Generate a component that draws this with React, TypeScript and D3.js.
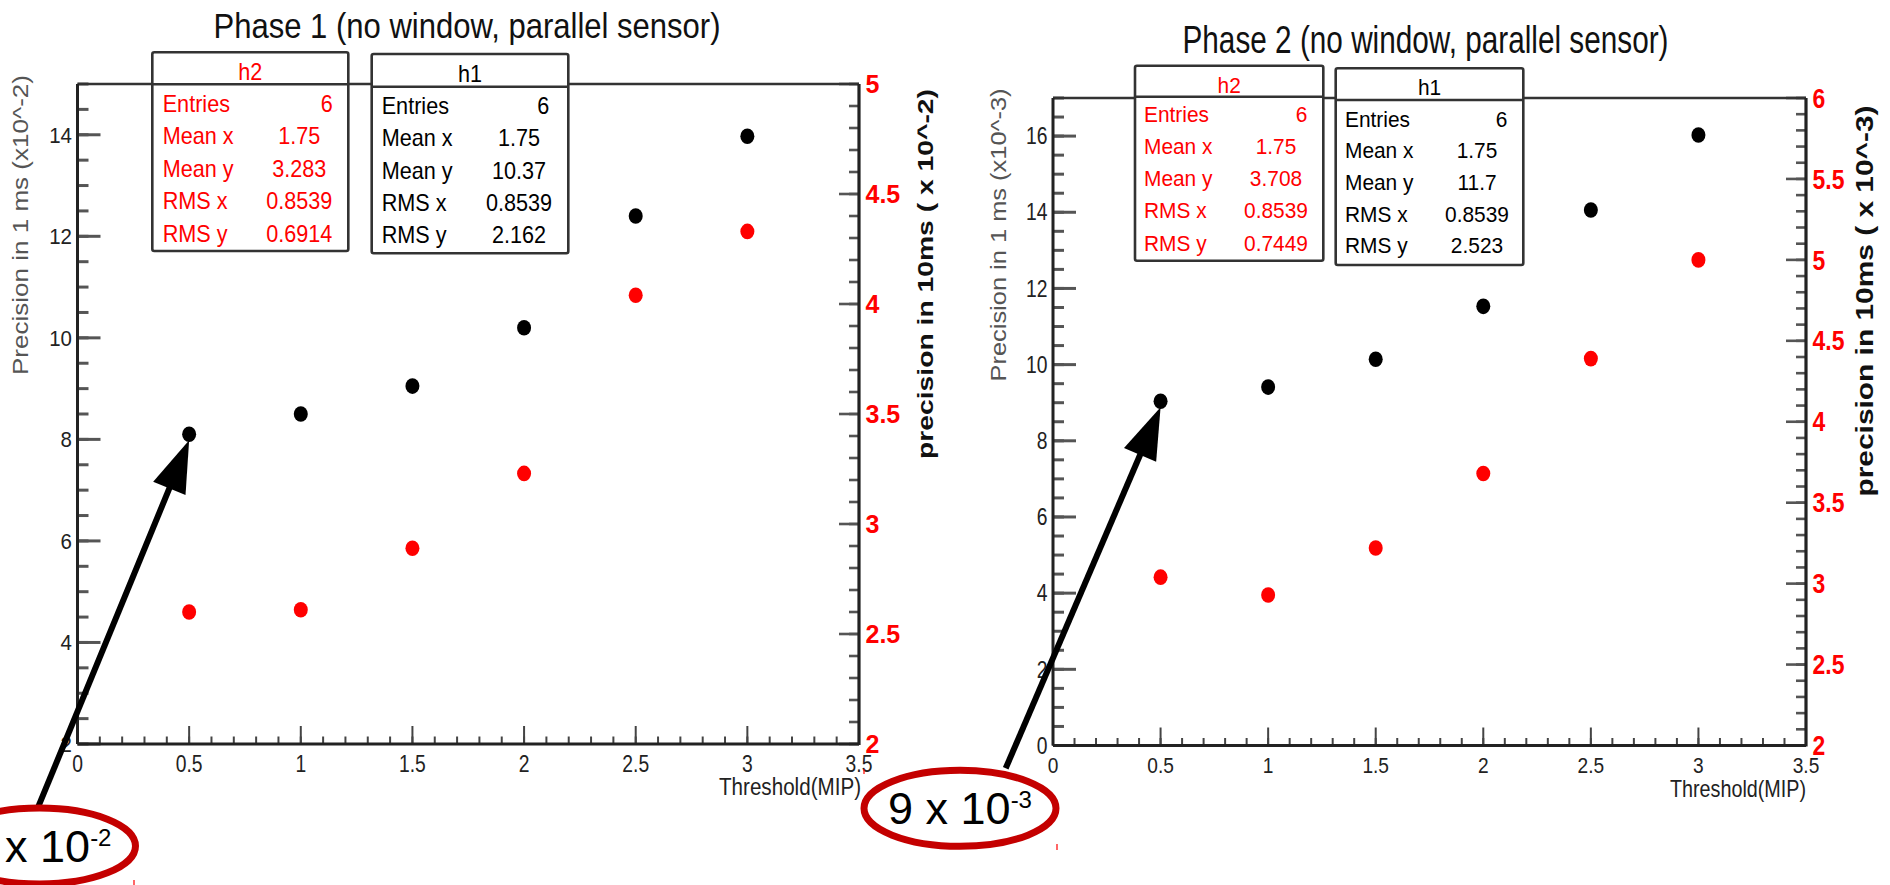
import React from 'react';
import * as d3 from 'd3';

// ---- data -------------------------------------------------------------
const thresholdMip = [0.5, 1, 1.5, 2, 2.5, 3];
const phase1Prec1ms = [8.1, 8.5, 9.05, 10.2, 12.4, 13.97];
const phase1Prec10ms = [2.6, 2.61, 2.89, 3.23, 4.04, 4.33];
const phase2Prec1ms = [9.04, 9.41, 10.14, 11.53, 14.06, 16.03];
const phase2Prec10ms = [3.04, 2.93, 3.22, 3.68, 4.39, 5.0];

const xTickValues = [0, 0.5, 1, 1.5, 2, 2.5, 3, 3.5];
const xTickLabels = ['0', '0.5', '1', '1.5', '2', '2.5', '3', '3.5'];
const phase1LeftTicks = [2, 4, 6, 8, 10, 12, 14];
const phase1RightTicks = [2, 2.5, 3, 3.5, 4, 4.5, 5];
const phase2LeftTicks = [0, 2, 4, 6, 8, 10, 12, 14, 16];
const phase2RightTicks = [2, 2.5, 3, 3.5, 4, 4.5, 5, 5.5, 6];

const statNames = ['Entries', 'Mean x', 'Mean y', 'RMS x', 'RMS y'];
const phase1H2Stats = ['6', '1.75', '3.283', '0.8539', '0.6914'];
const phase1H1Stats = ['6', '1.75', '10.37', '0.8539', '2.162'];
const phase2H2Stats = ['6', '1.75', '3.708', '0.8539', '0.7449'];
const phase2H1Stats = ['6', '1.75', '11.7', '0.8539', '2.523'];

const calloutMantissa = ['8', '9'];
const calloutExponent = ['-2', '-3'];

// ---- layout -----------------------------------------------------------
const FONT = "'Liberation Sans', Arial, Helvetica, sans-serif";
const RED = '#ff0000';
const DARK_RED = '#c40000';

const panels = [
  {
    title: 'Phase 1 (no window, parallel sensor)',
    titleX: 467, titleY: 38.3, titleSize: 35, titleLen: 507,
    frame: { left: 77.5, right: 859, top: 84, bottom: 744 },
    leftDomain: [2, 15], rightDomain: [2, 5],
    leftTicks: phase1LeftTicks, rightTicks: phase1RightTicks,
    black: phase1Prec1ms, red: phase1Prec10ms,
    leftLabel: { size: 22, sx: 0.93 },
    xLabel: { size: 23, sx: 0.84, dy: 27.7 },
    rightLabel: { size: 25, sx: 1 },
    leftTitle: 'Precision in 1 ms (x10^-2)', leftTitleX: 27.5, leftTitleY: 225, leftTitleLen: 300, leftTitleSize: 21.5,
    rightTitle: 'precision in 10ms ( x 10^-2)', rightTitleX: 933, rightTitleY: 274, rightTitleLen: 370, rightTitleSize: 22,
    xTitleX: 861, xTitleY: 795, xTitleSize: 23, xTitleLen: 142,
    boxes: [
      { name: 'h2', color: RED, values: phase1H2Stats, x: 152.3, y: 52.3, w: 196, h: 198.7, headerY: 84.3, headerBase: 80,
        rowStart: 111.7, rowStep: 32.5, labelDx: 10.4, valueCx: 147, entriesDx: 15.6, size: 23, sx: 0.94 },
      { name: 'h1', color: '#000', values: phase1H1Stats, x: 371.7, y: 54, w: 196.6, h: 199.3, headerY: 86.7, headerBase: 81.7,
        rowStart: 114, rowStep: 32.3, labelDx: 10, valueCx: 147.3, entriesDx: 19, size: 23, sx: 0.94 },
    ],
    callout: { cx: 39.5, cy: 846, rx: 96, ry: 38, base: 861.7, start: [38.3, 806.7] },
    marks: [[134, 880, 134, 885], [864, 769, 864, 774]],
  },
  {
    title: 'Phase 2 (no window, parallel sensor)',
    titleX: 1425.5, titleY: 53.3, titleSize: 38, titleLen: 486,
    frame: { left: 1053, right: 1806, top: 98, bottom: 745.5 },
    leftDomain: [0, 17], rightDomain: [2, 6],
    leftTicks: phase2LeftTicks, rightTicks: phase2RightTicks,
    black: phase2Prec1ms, red: phase2Prec10ms,
    leftLabel: { size: 23, sx: 0.84 },
    xLabel: { size: 22.5, sx: 0.85, dy: 27.8 },
    rightLabel: { size: 27, sx: 0.85 },
    leftTitle: 'Precision in 1 ms (x10^-3)', leftTitleX: 1006, leftTitleY: 235, leftTitleLen: 293, leftTitleSize: 21.5,
    rightTitle: 'precision in 10ms ( x 10^-3)', rightTitleX: 1873, rightTitleY: 301, rightTitleLen: 391, rightTitleSize: 23,
    xTitleX: 1806, xTitleY: 797, xTitleSize: 24, xTitleLen: 136,
    boxes: [
      { name: 'h2', color: RED, values: phase2H2Stats, x: 1135, y: 65.7, w: 188.3, h: 195, headerY: 96.7, headerBase: 93.3,
        rowStart: 121.7, rowStep: 32.25, labelDx: 9, valueCx: 141, entriesDx: 16, size: 22, sx: 0.95 },
      { name: 'h1', color: '#000', values: phase2H1Stats, x: 1335.7, y: 68.3, w: 187.6, h: 196.7, headerY: 100, headerBase: 95,
        rowStart: 126.7, rowStep: 31.65, labelDx: 9.3, valueCx: 141.3, entriesDx: 16, size: 22, sx: 0.95 },
    ],
    callout: { cx: 960, cy: 808.3, rx: 96, ry: 38, base: 824, start: [1005.7, 768.3] },
    marks: [[1057, 844, 1057, 850]],
  },
];

// Text drawn with an optional horizontal squeeze around its anchor point.
function SText({ x, y, sx = 1, anchor = 'start', size, fill = '#000', weight = 'normal', children }: any) {
  return (
    <text
      transform={`translate(${x},${y}) scale(${sx},1)`}
      textAnchor={anchor}
      fontSize={size}
      fontWeight={weight}
      fill={fill}
      fontFamily={FONT}
    >
      {children}
    </text>
  );
}

function StatBox({ b }: any) {
  const rows = statNames.map((n, i) => {
    const y = b.rowStart + i * b.rowStep;
    const isEntries = i === 0;
    return (
      <g key={n}>
        <SText x={b.x + b.labelDx} y={y} size={b.size} sx={b.sx} fill={b.color}>{n}</SText>
        <SText
          x={isEntries ? b.x + b.w - b.entriesDx : b.x + b.valueCx}
          y={y}
          size={b.size}
          sx={b.sx}
          anchor={isEntries ? 'end' : 'middle'}
          fill={b.color}
        >
          {b.values[i]}
        </SText>
      </g>
    );
  });
  return (
    <g>
      <rect x={b.x} y={b.y} width={b.w} height={b.h} rx={2} fill="#fff" stroke="#333" strokeWidth={2.6} />
      <line x1={b.x} x2={b.x + b.w} y1={b.headerY} y2={b.headerY} stroke="#333" strokeWidth={2.6} />
      <SText x={b.x + b.w / 2} y={b.headerBase} size={b.size} sx={b.sx} anchor="middle" fill={b.color}>{b.name}</SText>
      {rows}
    </g>
  );
}

function Arrow({ from, to }: any) {
  const [x0, y0] = from;
  const [x1, y1] = to;
  const len = Math.hypot(x1 - x0, y1 - y0);
  const ux = (x1 - x0) / len;
  const uy = (y1 - y0) / len;
  const headLen = 52;
  const halfW = 17.5;
  const bx = x1 - ux * headLen;
  const by = y1 - uy * headLen;
  const px = -uy;
  const py = ux;
  const head = `M${x1},${y1}L${bx + px * halfW},${by + py * halfW}L${bx - px * halfW},${by - py * halfW}Z`;
  return (
    <g>
      <line x1={x0} y1={y0} x2={bx + ux * 4} y2={by + uy * 4} stroke="#000" strokeWidth={6} />
      <path d={head} fill="#000" />
    </g>
  );
}

function Panel({ p, idx }: any) {
  const f = p.frame;
  const x = d3.scaleLinear().domain([0, 3.5]).range([f.left, f.right]);
  const yL = d3.scaleLinear().domain(p.leftDomain).range([f.bottom, f.top]);
  const yR = d3.scaleLinear().domain(p.rightDomain).range([f.bottom, f.top]);

  const xMinor = d3.range(0, 3.5 + 1e-9, 0.1);
  const leftMinor = d3.range(p.leftDomain[0], p.leftDomain[1] + 1e-9, 0.5);
  const rightMinor = d3.range(p.rightDomain[0], p.rightDomain[1] + 1e-9, 0.1);

  const c = p.callout;
  const tip = [x(thresholdMip[0]), yL(p.black[0]) + 6];

  return (
    <g>
      {/* title */}
      <text x={p.titleX} y={p.titleY} fontSize={p.titleSize} textAnchor="middle" fontFamily={FONT}
        fill="#111" textLength={p.titleLen} lengthAdjust="spacingAndGlyphs">{p.title}</text>

      {/* x axis ticks */}
      {xMinor.map((v: number) => (
        <line key={'xm' + v} x1={x(v)} x2={x(v)} y1={f.bottom} y2={f.bottom - 7.5} stroke="#444" strokeWidth={2} />
      ))}
      {xTickValues.map((v) => (
        <line key={'xM' + v} x1={x(v)} x2={x(v)} y1={f.bottom} y2={f.bottom - 18} stroke="#444" strokeWidth={2} />
      ))}
      {xTickValues.map((v, i) => (
        <SText key={'xl' + v} x={x(v)} y={f.bottom + p.xLabel.dy} size={p.xLabel.size} sx={p.xLabel.sx}
          anchor="middle" fill="#222">{xTickLabels[i]}</SText>
      ))}

      {/* left axis ticks */}
      {leftMinor.map((v: number) => (
        <line key={'lm' + v} x1={f.left} x2={f.left + 11} y1={yL(v)} y2={yL(v)} stroke="#555" strokeWidth={3} />
      ))}
      {p.leftTicks.map((v: number) => (
        <line key={'lM' + v} x1={f.left} x2={f.left + 23} y1={yL(v)} y2={yL(v)} stroke="#555" strokeWidth={3} />
      ))}
      {p.leftTicks.map((v: number) => (
        <SText key={'ll' + v} x={f.left - 5.5} y={yL(v) + 0.358 * p.leftLabel.size} size={p.leftLabel.size}
          sx={p.leftLabel.sx} anchor="end" fill="#222">{String(v)}</SText>
      ))}

      {/* right axis ticks */}
      {rightMinor.map((v: number) => (
        <line key={'rm' + v} x1={f.right} x2={f.right - 10} y1={yR(v)} y2={yR(v)} stroke="#555" strokeWidth={2.6} />
      ))}
      {p.rightTicks.map((v: number) => (
        <line key={'rM' + v} x1={f.right} x2={f.right - 20} y1={yR(v)} y2={yR(v)} stroke="#555" strokeWidth={2.6} />
      ))}
      {p.rightTicks.map((v: number) => (
        <SText key={'rl' + v} x={f.right + 6.5} y={yR(v) + 0.358 * p.rightLabel.size} size={p.rightLabel.size}
          sx={p.rightLabel.sx} weight="bold" fill={RED}>{String(v)}</SText>
      ))}

      {/* frame */}
      <line x1={f.left} x2={f.right} y1={f.top} y2={f.top} stroke="#333" strokeWidth={2.6} />
      <line x1={f.left} x2={f.left} y1={f.top} y2={f.bottom} stroke="#222" strokeWidth={3} />
      <line x1={f.right} x2={f.right} y1={f.top} y2={f.bottom + 1} stroke="#222" strokeWidth={3.2} />
      <line x1={f.left} x2={f.right} y1={f.bottom} y2={f.bottom} stroke="#222" strokeWidth={3} />

      {/* axis titles */}
      <text transform={`translate(${p.leftTitleX},${p.leftTitleY}) rotate(-90)`} textAnchor="middle"
        fontSize={p.leftTitleSize} fontFamily={FONT} fill="#555" textLength={p.leftTitleLen}
        lengthAdjust="spacingAndGlyphs">{p.leftTitle}</text>
      <text transform={`translate(${p.rightTitleX},${p.rightTitleY}) rotate(-90)`} textAnchor="middle"
        fontSize={p.rightTitleSize} fontWeight="bold" fontFamily={FONT} fill="#111" textLength={p.rightTitleLen}
        lengthAdjust="spacingAndGlyphs">{p.rightTitle}</text>
      <text x={p.xTitleX} y={p.xTitleY} textAnchor="end" fontSize={p.xTitleSize} fontFamily={FONT} fill="#222"
        textLength={p.xTitleLen} lengthAdjust="spacingAndGlyphs">Threshold(MIP)</text>

      {/* markers */}
      {thresholdMip.map((t, i) => (
        <ellipse key={'b' + t} cx={x(t)} cy={yL(p.black[i])} rx={7} ry={7.8} fill="#000" />
      ))}
      {thresholdMip.map((t, i) => (
        <ellipse key={'r' + t} cx={x(t)} cy={yR(p.red[i])} rx={7} ry={7.8} fill={RED} />
      ))}

      {/* statistics boxes */}
      {p.boxes.map((b: any) => <StatBox key={b.name} b={b} />)}

      {/* callout */}
      <Arrow from={c.start} to={tip} />
      <ellipse cx={c.cx} cy={c.cy} rx={c.rx} ry={c.ry} fill="none" stroke={DARK_RED} strokeWidth={7} />
      <text x={c.cx} y={c.base} textAnchor="middle" fontFamily={FONT} fontSize={45} fill="#000">
        <tspan>{calloutMantissa[idx]} x 10</tspan>
        <tspan dy={-16} fontSize={24}>{calloutExponent[idx]}</tspan>
      </text>
      {p.marks.map((m: number[], i: number) => (
        <line key={'m' + i} x1={m[0]} y1={m[1]} x2={m[2]} y2={m[3]} stroke={RED} strokeWidth={1.2} />
      ))}
    </g>
  );
}

export default function App() {
  return (
    <svg
      width={1890}
      height={885}
      viewBox="0 0 1890 885"
      style={{ position: 'absolute', left: 0, top: 0, display: 'block', background: '#fff' }}
    >
      <rect x={0} y={0} width={1890} height={885} fill="#fff" />
      {panels.map((p, i) => <Panel key={i} p={p} idx={i} />)}
    </svg>
  );
}
